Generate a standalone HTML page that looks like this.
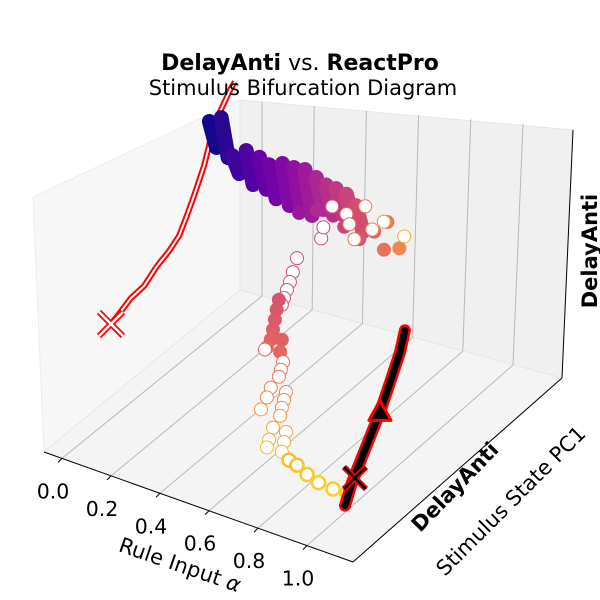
<!DOCTYPE html>
<html><head><meta charset="utf-8"><style>
html,body{margin:0;padding:0;background:#fff}
svg{display:block}
text{font-family:"DejaVu Sans","Liberation Sans",sans-serif;fill:#000}
</style></head><body>
<svg id="chart" width="600" height="600" viewBox="0 0 600 600" xmlns="http://www.w3.org/2000/svg">
<g id="panes">
<polygon points="33,197 240,100 240,290 44,452" fill="#f7f7f7" stroke="#ececec" stroke-width="1"/>
<polygon points="240,100 573,130 562,378 240,290" fill="#f0f0f0" stroke="#e6e6e6" stroke-width="1"/>
<polygon points="44,452 240,290 562,378 353,562" fill="#f4f4f4" stroke="#e6e6e6" stroke-width="1"/>
</g>
<g id="grid"></g>
<line x1="44" y1="452" x2="353" y2="562" stroke="#000" stroke-width="1"/>
<line x1="353" y1="562" x2="562" y2="378" stroke="#000" stroke-width="1"/>
<line x1="562" y1="378" x2="573" y2="130" stroke="#000" stroke-width="1"/>
<g id="ticks"></g>
<g id="marks"></g>
<text x="300" y="70" font-size="22" text-anchor="middle"><tspan font-weight="bold">DelayAnti</tspan> vs. <tspan font-weight="bold">ReactPro</tspan></text>
<text x="303" y="95" font-size="21" text-anchor="middle">Stimulus Bifurcation Diagram</text>
<text x="180" y="572" font-size="21" text-anchor="middle" transform="rotate(19 180 565)">Rule Input <tspan font-style="italic">α</tspan></text>
<text x="455" y="494" font-size="21" font-weight="bold" text-anchor="middle" transform="rotate(-46 455 487)">DelayAnti</text>
<text x="511" y="508" font-size="21" text-anchor="middle" transform="rotate(-45 511 501)">Stimulus State PC1</text>
<text x="590" y="258" font-size="21" font-weight="bold" text-anchor="middle" transform="rotate(-90 590 251)">DelayAnti</text>
</svg>
<script>
// ---- data ----
const tickValues = [0.0, 0.2, 0.4, 0.6, 0.8, 1.0];
const tickLabels = ["0.0", "0.2", "0.4", "0.6", "0.8", "1.0"];
// upper stable branch (filled streaks): alpha, PC1, state range
const upAlpha = [0.017,0.065,0.11,0.167,0.221,0.261,0.315,0.362,0.407,0.453,0.494,0.534,0.576,0.615];
const upPC = [0.75,0.75,0.75,0.75,0.75,0.75,0.75,0.75,0.75,0.75,0.75,0.75,0.75,0.75];
const upTop = [1.06,1.10,0.93,0.98,0.97,0.95,0.98,0.98,0.99,0.97,0.95,0.95,0.94,0.90];
const upBot = [0.94,0.91,0.85,0.82,0.82,0.79,0.78,0.78,0.77,0.82,0.81,0.83,0.82,0.78];
// extra filled upper points
const exAlpha = [0.371,0.444,0.555,0.616,0.677,0.731,0.78,0.717];
const exZ = [0.757,0.802,0.768,0.733,0.797,0.869,0.759,0.724];
// hollow (unstable) upper points
const huAlpha = [0.506,0.564,0.641,0.717,0.8,0.669,0.597,0.461,0.47,0.576];
const huZ = [0.848,0.836,0.908,0.864,0.827,0.804,0.724,0.669,0.728,0.79];
// lower branch
const lowAlpha = [0.8,0.783,0.771,0.759,0.747,0.738,0.726,0.717,0.71,0.702,0.693,0.677,0.738,0.731,0.669,0.743,0.734,0.726,0.693,0.677,0.653,0.755,0.747,0.738,0.731,0.702,0.686,0.677,0.755,0.747,0.738,0.767,0.8,0.841,0.888,0.947,1.004];
const lowZ = [1.158,1.081,1.026,0.981,0.936,0.898,0.918,0.865,0.811,0.758,0.704,0.657,0.723,0.659,0.644,0.614,0.571,0.533,0.464,0.408,0.338,0.469,0.426,0.383,0.34,0.268,0.201,0.158,0.269,0.216,0.163,0.134,0.123,0.094,0.074,0.068,0.071];
const lowFilled = [0,0,0,0,0,0,1,1,1,1,1,1,1,1,0,0,0,0,0,0,0,0,0,0,0,0,0,0,0,0,0,0,0,0,0,0,0];
const lowPC = 0.2;
// DelayAnti trajectory (red) at alpha 0
const redPC = [0.251,0.292,0.354,0.421,0.487,0.549,0.6,0.636,0.677,0.728,0.754,0.769,0.805,0.836,0.867,0.887];
const redZ = [0.439,0.456,0.487,0.493,0.54,0.566,0.6,0.661,0.739,0.848,0.927,0.99,1.046,1.086,1.127,1.141];
const redAlpha = 0.0;
// ReactPro trajectory (black)
const blkPC = [-0.01,0.026,0.077,0.128,0.169,0.221,0.272,0.297];
const blkZ = [0.247,0.334,0.419,0.503,0.57,0.678,0.788,0.878];
const blkAlpha = 1.163;
const blkStart = [0.041, 0.344];
const blkTri = [0.169, 0.57];

// ---- projection ----
function px(a,b,c){ return 62 + 245*a + 195*b; }
function py(a,b,c){ return 452 + 87.2*a - 160*b - 200*c; }
const plasma=[[0,[13,8,135]],[.1,[65,4,157]],[.2,[106,0,168]],[.3,[143,13,164]],[.4,[177,42,144]],[.5,[204,71,120]],[.6,[225,100,98]],[.7,[242,132,75]],[.8,[252,166,54]],[.9,[252,206,37]],[1,[240,249,33]]];
function cmap(t){t=Math.max(0,Math.min(1,t));for(let i=1;i<plasma.length;i++){if(t<=plasma[i][0]){const a=plasma[i-1],b=plasma[i],f=(t-a[0])/(b[0]-a[0]);const c=a[1].map((v,k)=>Math.round(v+(b[1][k]-v)*f));return 'rgb('+c.join(',')+')';}}return 'rgb(240,249,33)';}
function lowColor(z){const u=Math.max(0,1-z/1.16);return cmap(0.53+0.42*u*u);}
const NS='http://www.w3.org/2000/svg';
function mk(tag,attrs,parent){const e=document.createElementNS(NS,tag);for(const k in attrs)e.setAttribute(k,attrs[k]);parent.appendChild(e);return e;}
const grid=document.getElementById('grid'), ticks=document.getElementById('ticks'), marks=document.getElementById('marks');

tickValues.forEach((v,i)=>{
  const fx=62+245*v, fy=458.4+87.2*v;
  const bx=262+251*v, by=296+69*v;
  const tx=262+261*v, ty=101.8+22*v;
  let g1=mk('line',{x1:fx,y1:fy,x2:bx,y2:by,stroke:'#b8b8b8','stroke-width':1},grid);
  
  
  let g2=mk('line',{x1:bx,y1:by,x2:tx,y2:ty,stroke:'#b8b8b8','stroke-width':1},grid);
  
  
  let tk=mk('line',{x1:fx,y1:fy,x2:fx-4,y2:fy+4,stroke:'#000','stroke-width':1},ticks);
  
  
  let tl=mk('text',{x:fx-9,y:fy+40,'font-size':20.5,'text-anchor':'middle'},ticks);
  tl.textContent=tickLabels[i];
  
  
});

// red trajectory
let rd='';redPC.forEach((b,i)=>{rd+=(i?'L':'M')+px(redAlpha,b,redZ[i]).toFixed(1)+','+py(redAlpha,b,redZ[i]).toFixed(1);});
let r1=mk('path',{d:rd,fill:'none',stroke:'#ff0000','stroke-width':6,'stroke-linejoin':'round'},marks);


let r2=mk('path',{d:rd,fill:'none',stroke:'#fff','stroke-width':2,'stroke-linejoin':'round'},marks);


(function(){const x=px(redAlpha,redPC[0],redZ[0]),y=py(redAlpha,redPC[0],redZ[0]),s=12;
 const d='M'+(x-s)+','+(y-s)+'L'+(x+s)+','+(y+s)+'M'+(x-s)+','+(y+s)+'L'+(x+s)+','+(y-s);
 let a=mk('path',{d:d,stroke:'#ff0000','stroke-width':6,fill:'none'},marks);
 
 
 let b=mk('path',{d:d,stroke:'#fff','stroke-width':2.5,fill:'none'},marks);
 
 })();

// upper streaks
upAlpha.forEach((a,i)=>{
  const b=upPC[i];
  let l=mk('line',{x1:px(a,b,upTop[i])-3,y1:py(a,b,upTop[i]),x2:px(a,b,upBot[i])+4,y2:py(a,b,upBot[i])+2,stroke:cmap(a*0.85),'stroke-width':15,'stroke-linecap':'round'},marks);
  
  
});
exAlpha.forEach((a,i)=>{
  let c=mk('circle',{cx:px(a,0.75,exZ[i]),cy:py(a,0.75,exZ[i]),r:7,fill:cmap(a*0.9)},marks);
  
  
});
huAlpha.forEach((a,i)=>{
  let c=mk('circle',{cx:px(a,0.75,huZ[i]),cy:py(a,0.75,huZ[i]),r:6.5,fill:'#fff',stroke:cmap(a*0.9+0.1),'stroke-width':1},marks);
  
  
});
// lower branch
lowAlpha.forEach((a,i)=>{
  const col=lowColor(lowZ[i]);
  const x=px(a,lowPC,lowZ[i]),y=py(a,lowPC,lowZ[i]);
  let c;
  if(lowFilled[i]) c=mk('circle',{cx:x,cy:y,r:7,fill:col},marks);
  else c=mk('circle',{cx:x,cy:y,r:6.5,fill:'#fff',stroke:col,'stroke-width':lowZ[i]<0.15?2.5:1},marks);
  
  
});

// black trajectory
let bd='';blkPC.forEach((b,i)=>{bd+=(i?'L':'M')+px(blkAlpha,b,blkZ[i]).toFixed(1)+','+py(blkAlpha,b,blkZ[i]).toFixed(1);});
let b1=mk('path',{d:bd,fill:'none',stroke:'#ff0000','stroke-width':12,'stroke-linecap':'round','stroke-linejoin':'round'},marks);


let b2=mk('path',{d:bd,fill:'none',stroke:'#000','stroke-width':7,'stroke-linecap':'round','stroke-linejoin':'round'},marks);


(function(){const x=px(blkAlpha,blkStart[0],blkStart[1]),y=py(blkAlpha,blkStart[0],blkStart[1]),s=11;
 const d='M'+(x-s)+','+(y-s)+'L'+(x+s)+','+(y+s)+'M'+(x-s)+','+(y+s)+'L'+(x+s)+','+(y-s);
 let a=mk('path',{d:d,stroke:'#ff0000','stroke-width':6,fill:'none'},marks);
 
 
 let b=mk('path',{d:d,stroke:'#000','stroke-width':2.5,fill:'none'},marks);
 
 
 const tx=px(blkAlpha,blkTri[0],blkTri[1]),ty=py(blkAlpha,blkTri[0],blkTri[1]);
 let t=mk('polygon',{points:(tx)+','+(ty-12)+' '+(tx+11)+','+(ty+8)+' '+(tx-11)+','+(ty+8),fill:'#000',stroke:'#ff0000','stroke-width':3,'stroke-linejoin':'round'},marks);
 
 })();
</script>
</body></html>
